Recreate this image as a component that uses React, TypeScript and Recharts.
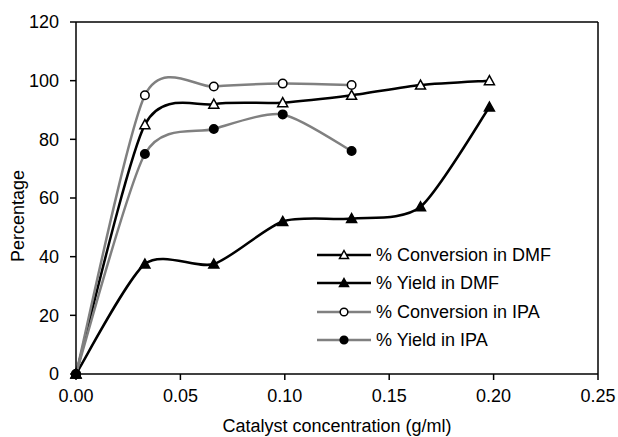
import { LineChart, Line, XAxis, YAxis, ReferenceLine } from 'recharts'

const CONC = [0, 0.033, 0.066, 0.099, 0.132, 0.165, 0.198]
const CONV_DMF = [0, 85, 92, 92.5, 95, 98.5, 100]
const YIELD_DMF = [0, 37.5, 37.5, 52, 53, 57, 91]
const CONV_IPA = [0, 95, 98, 99, 98.5]
const YIELD_IPA = [0, 75, 83.5, 88.5, 76]

const X_TICKS = [0, 0.05, 0.1, 0.15, 0.2, 0.25]
const Y_TICKS = [0, 20, 40, 60, 80, 100, 120]

const FONT = '"Liberation Sans", Arial, sans-serif'
const FS = 18
const GRAY = '#808080'

const toPoints = (ys: number[]) => ys.map((y, i) => ({ x: CONC[i], y }))

// Excel-like smoothed line (Catmull-Rom style cubic Beziers, a bit tighter)
const K = 1 / 8
const smoothCurve = (context: any) => {
  let pts: number[][] = []
  return {
    areaStart() {},
    areaEnd() {},
    lineStart() {
      pts = []
    },
    lineEnd() {
      const n = pts.length
      if (!n) return
      context.moveTo(pts[0][0], pts[0][1])
      for (let i = 0; i < n - 1; i++) {
        const p0 = pts[Math.max(i - 1, 0)]
        const p1 = pts[i]
        const p2 = pts[i + 1]
        const p3 = pts[Math.min(i + 2, n - 1)]
        context.bezierCurveTo(
          p1[0] + (p2[0] - p0[0]) * K,
          p1[1] + (p2[1] - p0[1]) * K,
          p2[0] - (p3[0] - p1[0]) * K,
          p2[1] - (p3[1] - p1[1]) * K,
          p2[0],
          p2[1],
        )
      }
    },
    point(x: number, y: number) {
      pts.push([+x, +y])
    },
  }
}

type Marker = 'triOpen' | 'triFilled' | 'circOpen' | 'circFilled'

function MarkerShape({ cx, cy, kind, size }: { cx: number; cy: number; kind: Marker; size: number }) {
  const h = size / 2
  if (kind === 'triOpen' || kind === 'triFilled') {
    const pts = `${cx},${cy - h} ${cx + h},${cy + h * 0.8} ${cx - h},${cy + h * 0.8}`
    return (
      <polygon
        points={pts}
        fill={kind === 'triFilled' ? '#000' : '#fff'}
        stroke="#000"
        strokeWidth={1.5}
      />
    )
  }
  return (
    <circle
      cx={cx}
      cy={cy}
      r={h * 0.85}
      fill={kind === 'circFilled' ? '#000' : '#fff'}
      stroke="#000"
      strokeWidth={1.5}
    />
  )
}

const makeDot = (kind: Marker) => (props: any) => {
  const { cx, cy, index } = props
  if (cx == null || cy == null) return <g key={index} />
  return (
    <g key={index}>
      <MarkerShape cx={cx} cy={cy} kind={kind} size={10} />
    </g>
  )
}

const SERIES: { name: string; data: number[]; color: string; kind: Marker }[] = [
  { name: '% Conversion in DMF', data: CONV_DMF, color: '#000', kind: 'triOpen' },
  { name: '% Yield in DMF', data: YIELD_DMF, color: '#000', kind: 'triFilled' },
  { name: '% Conversion in IPA', data: CONV_IPA, color: GRAY, kind: 'circOpen' },
  { name: '% Yield in IPA', data: YIELD_IPA, color: GRAY, kind: 'circFilled' },
]

function LegendBox() {
  return (
    <div
      style={{
        position: 'absolute',
        left: 317,
        top: 241,
        fontFamily: FONT,
        fontSize: FS,
        color: '#000',
        lineHeight: 1,
      }}
    >
      {SERIES.map((s) => (
        <div key={s.name} style={{ display: 'flex', alignItems: 'center', height: 28.3 }}>
          <svg width={56} height={14} style={{ marginRight: 3 }}>
            <line x1={0} y1={7} x2={54} y2={7} stroke={s.color} strokeWidth={2.5} />
            <MarkerShape cx={27} cy={7} kind={s.kind} size={9} />
          </svg>
          <span>{s.name}</span>
        </div>
      ))}
    </div>
  )
}

function YLabel(props: any) {
  const vb = props.viewBox
  const x = vb.x + 18
  const y = vb.y + vb.height / 2 + 18
  return (
    <text
      x={x}
      y={y}
      transform={`rotate(-90, ${x}, ${y})`}
      textAnchor="middle"
      dominantBaseline="central"
      fontFamily={FONT}
      fontSize={FS}
      fill="#000"
    >
      Percentage
    </text>
  )
}

export default function App() {
  const tick = { fontFamily: FONT, fontSize: FS, fill: '#000' }
  return (
    <div style={{ position: 'absolute', left: 0, top: 0, width: 618, height: 437, background: '#fff' }}>
      <LineChart width={618} height={437} margin={{ top: 22, right: 20, left: 0, bottom: 0 }}>
        <XAxis
          type="number"
          dataKey="x"
          domain={[0, 0.25]}
          ticks={X_TICKS}
          tickFormatter={(v: number) => v.toFixed(2)}
          height={63}
          tick={tick}
          tickSize={6}
          tickMargin={9}
          axisLine={{ stroke: '#000', strokeWidth: 1.5 }}
          tickLine={{ stroke: '#000', strokeWidth: 1.5 }}
          label={{
            value: 'Catalyst concentration (g/ml)',
            position: 'insideBottom',
            offset: 5,
            style: { fontFamily: FONT, fontSize: FS, fill: '#000' },
          }}
        />
        <YAxis
          type="number"
          domain={[0, 120]}
          ticks={Y_TICKS}
          width={76}
          tick={tick}
          tickSize={6}
          tickMargin={11}
          axisLine={{ stroke: '#000', strokeWidth: 1.5 }}
          tickLine={{ stroke: '#000', strokeWidth: 1.5 }}
          label={<YLabel />}
        />
        <ReferenceLine y={120} stroke="#000" strokeWidth={1.5} />
        <ReferenceLine x={0.25} stroke="#000" strokeWidth={1.5} />
        {SERIES.map((s) => (
          <Line
            key={s.name}
            name={s.name}
            data={toPoints(s.data)}
            dataKey="y"
            type={smoothCurve as any}
            stroke={s.color}
            strokeWidth={2.5}
            dot={makeDot(s.kind)}
            activeDot={false}
            isAnimationActive={false}
          />
        ))}
      </LineChart>
      <LegendBox />
    </div>
  )
}
